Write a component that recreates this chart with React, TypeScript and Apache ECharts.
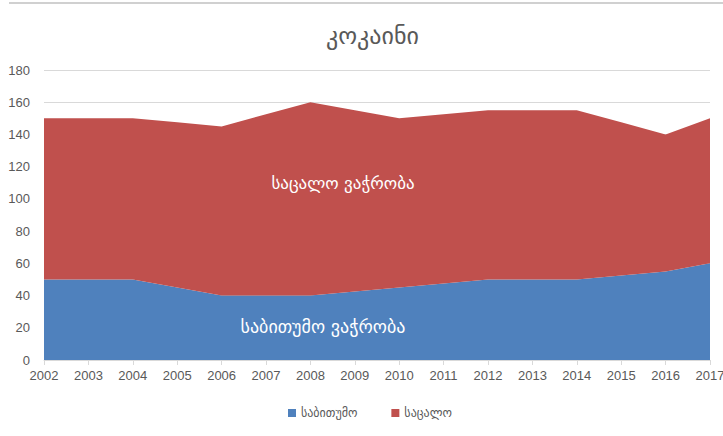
import React, { useEffect, useRef } from "react";
import * as echarts from "echarts";

const years = ["2002","2003","2004","2005","2006","2007","2008","2009","2010","2011","2012","2013","2014","2015","2016","2017"];
const wholesale = [50, 50, 50, 45, 40, 40, 40, 42.5, 45, 47.5, 50, 50, 50, 52.5, 55, 60];
const retail = [100, 100, 100, 102.5, 105, 112.5, 120, 112.5, 105, 105, 105, 105, 105, 95, 85, 90];
const seriesNames = ["საბითუმო", "საცალო"];
const title = "კოკაინი";
const areaLabels = ["საცალო ვაჭრობა", "საბითუმო ვაჭრობა"];

const FONT = "'Liberation Sans', 'DejaVu Sans', sans-serif";
const GFONT = "'DejaVu Sans', 'Noto Sans', sans-serif";

export default function App() {
  const ref = useRef<HTMLDivElement>(null);
  useEffect(() => {
    document.body.style.margin = "0";
    const chart = echarts.init(ref.current!, null, { renderer: "svg" });
    chart.setOption({
      animation: false,
      backgroundColor: "#ffffff",
      textStyle: { fontFamily: FONT },
      title: {
        text: title,
        left: 321,
        top: 19,
        textStyle: { fontSize: 24, fontWeight: "normal", color: "#595959", fontFamily: GFONT },
      },
      legend: {
        bottom: 12,
        left: 283,
        itemWidth: 8,
        itemHeight: 8,
        itemGap: 34,
        icon: "rect",
        textStyle: { fontSize: 12, color: "#595959", fontFamily: GFONT },
        data: seriesNames,
      },
      grid: { left: 44, right: 13, top: 70, bottom: 76, outerBoundsMode: "none", containLabel: false },
      xAxis: {
        type: "category",
        data: years,
        boundaryGap: false,
        axisLine: { lineStyle: { color: "#d9d9d9" } },
        axisTick: { show: true, alignWithLabel: true, lineStyle: { color: "#d9d9d9" }, length: 5 },
        axisLabel: { color: "#595959", fontSize: 13, margin: 9, interval: 0, fontFamily: FONT },
      },
      yAxis: {
        type: "value",
        min: 0,
        max: 180,
        interval: 20,
        axisLine: { show: false },
        axisTick: { show: false },
        splitLine: { lineStyle: { color: "#d9d9d9" } },
        axisLabel: { color: "#595959", fontSize: 13, margin: 14, fontFamily: FONT },
      },
      series: [
        {
          name: seriesNames[0],
          type: "line",
          stack: "total",
          data: wholesale,
          symbol: "none",
          lineStyle: { width: 0 },
          areaStyle: { color: "#4F81BD", opacity: 1 },
          itemStyle: { color: "#4F81BD" },
        },
        {
          name: seriesNames[1],
          type: "line",
          stack: "total",
          data: retail,
          symbol: "none",
          lineStyle: { width: 0 },
          areaStyle: { color: "#C0504D", opacity: 1 },
          itemStyle: { color: "#C0504D" },
        },
      ],
      graphic: [
        {
          type: "line",
          z: 100,
          shape: { x1: 9, y1: 3, x2: 723, y2: 3 },
          style: { stroke: "#d0d0d0", lineWidth: 2 },
        },
        {
          type: "text",
          z: 100,
          x: 343,
          y: 183,
          style: { text: areaLabels[0], fill: "#ffffff", fontSize: 17, fontFamily: GFONT, align: "center", verticalAlign: "middle" },
        },
        {
          type: "text",
          z: 100,
          x: 323,
          y: 326,
          style: { text: areaLabels[1], fill: "#ffffff", fontSize: 18, fontFamily: GFONT, align: "center", verticalAlign: "middle" },
        },
      ],
    });
    return () => chart.dispose();
  }, []);
  return <div ref={ref} style={{ width: 723, height: 436, position: "fixed", left: 0, top: 0 }} />;
}
